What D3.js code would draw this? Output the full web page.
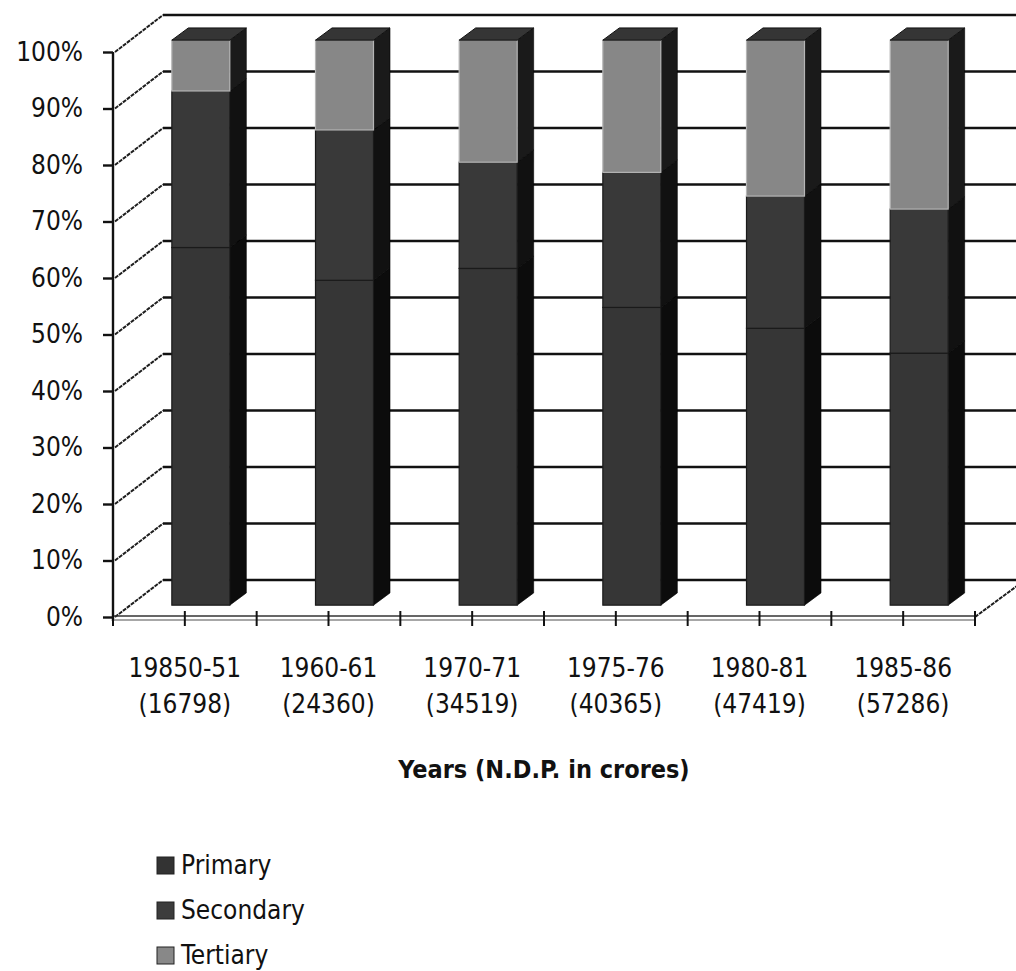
<!DOCTYPE html>
<html>
<head>
<meta charset="utf-8">
<script src="https://cdn.jsdelivr.net/npm/d3@7"></script>
<style>
  html, body { margin: 0; padding: 0; background: #fff; }
  svg { display: block; }
  text { font-family: "DejaVu Sans Condensed", "DejaVu Sans", Verdana, sans-serif; font-stretch: semi-condensed; fill: #111; }
</style>
</head>
<body>
<svg id="chart" width="1016" height="971"></svg>
<script>
// Sector shares of net domestic product (percent of total)
const years   = ["19850-51", "1960-61", "1970-71", "1975-76", "1980-81", "1985-86"];
const ndp     = ["(16798)", "(24360)", "(34519)", "(40365)", "(47419)", "(57286)"];
const primary   = [63.3, 57.5, 59.6, 52.7, 49.0, 44.6];
const secondary = [27.7, 26.6, 18.8, 23.9, 23.4, 25.5];
const tertiary  = [9.0, 15.9, 21.6, 23.4, 27.6, 29.9];
const seriesNames = ["Primary", "Secondary", "Tertiary"];
const yTicks = [0, 10, 20, 30, 40, 50, 60, 70, 80, 90, 100];

const FONT = '"DejaVu Sans Condensed", "DejaVu Sans", Verdana, sans-serif';
const svg = d3.select("#chart");
const W = 1016;

// front plane of the plot box and the depth vector of the 3-D box
const x = d3.scaleBand().domain(years).range([113, 975]).paddingInner(0).paddingOuter(0);
const y = d3.scaleLinear().domain([0, 100]).range([617, 52]);
const depth = { dx: 50, dy: -37 };
const off = f => [depth.dx * f, depth.dy * f];

const colors = {
  Primary:   { front: "#363636", side: "#0c0c0c", edge: "#1a1a1a" },
  Secondary: { front: "#393939", side: "#111111", edge: "#1a1a1a" },
  Tertiary:  { front: "#878787", side: "#1a1a1a", edge: "#b5b5b5" }
};

const rows = years.map((yr, i) => ({
  year: yr, ndp: ndp[i],
  Primary: primary[i], Secondary: secondary[i], Tertiary: tertiary[i]
}));
const stacked = d3.stack().keys(seriesNames)(rows);

// ---- back wall gridlines
const [bwx, bwy] = off(1);
const grid = svg.append("g");
grid.selectAll("line.grid").data(yTicks).join("line")
  .attr("x1", 113 + bwx).attr("x2", W + 10)
  .attr("y1", d => y(d) + bwy).attr("y2", d => y(d) + bwy)
  .attr("stroke", "#111").attr("stroke-width", 2.4);

// ---- side wall diagonals (left) and floor edge (right)
grid.selectAll("line.diag").data(yTicks).join("line")
  .attr("x1", 115).attr("y1", d => y(d))
  .attr("x2", 113 + bwx).attr("y2", d => y(d) + bwy)
  .attr("stroke", "#1e1e1e").attr("stroke-width", 2)
  .attr("stroke-dasharray", "4,1");
grid.append("line")
  .attr("x1", 975).attr("y1", y(0))
  .attr("x2", 975 + bwx).attr("y2", y(0) + bwy)
  .attr("stroke", "#1e1e1e").attr("stroke-width", 2)
  .attr("stroke-dasharray", "4,1");

// ---- columns
const f1 = 0.32, f2 = 0.65;
const barW = 58;
const [fx, fy] = off(f1);
const [bx, by] = off(f2);
const sdx = bx - fx, sdy = by - fy;

const bars = svg.append("g");
years.forEach((yr, i) => {
  const cx = x(yr) + x.bandwidth() / 2 + fx;
  const x0 = cx - barW / 2, x1 = cx + barW / 2;
  const g = bars.append("g");
  stacked.forEach(layer => {
    const d = layer[i];
    const name = layer.key;
    const yb = y(d[0]) + fy, yt = y(d[1]) + fy;
    const c = colors[name];
    // side face
    g.append("path")
      .attr("d", `M${x1},${yt}L${x1 + sdx},${yt + sdy}L${x1 + sdx},${yb + sdy}L${x1},${yb}Z`)
      .attr("fill", c.side).attr("stroke", "#000").attr("stroke-width", 0.6);
    // front face
    g.append("rect")
      .attr("x", x0).attr("y", yt).attr("width", barW).attr("height", yb - yt)
      .attr("fill", c.front).attr("stroke", c.edge).attr("stroke-width", 1.2);
  });
  // top face
  const top = stacked[stacked.length - 1][i][1];
  const yt = y(top) + fy;
  g.append("path")
    .attr("d", `M${x0},${yt}L${x0 + sdx},${yt + sdy}L${x1 + sdx},${yt + sdy}L${x1},${yt}Z`)
    .attr("fill", "#353535").attr("stroke", "#111").attr("stroke-width", 1);
});

// ---- front axes
const axes = svg.append("g");
axes.append("line").attr("x1", 113).attr("x2", 113).attr("y1", y(100)).attr("y2", y(0) + 4)
  .attr("stroke", "#111").attr("stroke-width", 2.4);
axes.append("line").attr("x1", 113).attr("x2", 975).attr("y1", y(0) - 1).attr("y2", y(0) - 1)
  .attr("stroke", "#333").attr("stroke-width", 1.6);
axes.append("line").attr("x1", 113).attr("x2", 975).attr("y1", y(0) + 3).attr("y2", y(0) + 3)
  .attr("stroke", "#8a8a8a").attr("stroke-width", 1.4);

// y axis ticks and labels
const yAxis = d3.axisLeft(y).tickValues(yTicks).tickFormat(d => d + "%")
  .tickSize(10).tickPadding(20);
const yg = axes.append("g").attr("transform", "translate(113,0)").call(yAxis);
yg.select(".domain").remove();
yg.selectAll(".tick line").attr("stroke", "#111").attr("stroke-width", 2.4);
yg.selectAll(".tick text")
  .style("font-family", FONT).style("font-stretch", "semi-condensed")
  .style("font-size", "26px").attr("fill", "#111");

// x axis ticks at every half band
const half = x.bandwidth() / 2;
const xTickPos = d3.range(0, years.length * 2 + 1).map(k => 113 + k * half);
axes.selectAll("line.xt").data(xTickPos).join("line")
  .attr("x1", d => d).attr("x2", d => d)
  .attr("y1", y(0) - 6).attr("y2", y(0) + 9)
  .attr("stroke", "#111").attr("stroke-width", 2);

// category labels (two lines)
const xAxis = d3.axisBottom(x).tickSize(0).tickPadding(0).tickFormat("");
const xg = axes.append("g").attr("transform", `translate(0,${y(0)})`).call(xAxis);
xg.select(".domain").remove();
xg.selectAll(".tick").each(function(d, i) {
  const t = d3.select(this).append("text")
    .attr("text-anchor", "middle")
    .style("font-family", FONT).style("font-stretch", "semi-condensed")
    .style("font-size", "26px").attr("fill", "#111");
  t.append("tspan").attr("x", 0).attr("y", 60).text(years[i]);
  t.append("tspan").attr("x", 0).attr("y", 96).text(ndp[i]);
});

// axis title
svg.append("text")
  .attr("x", (113 + 975) / 2).attr("y", 778)
  .attr("text-anchor", "middle")
  .style("font-size", "25px").style("font-weight", "bold")
  .text("Years (N.D.P. in crores)");

// ---- legend
const legendColors = ["#333333", "#3c3c3c", "#888888"];
const lg = svg.append("g").attr("transform", "translate(157,857)");
const item = lg.selectAll("g").data(seriesNames).join("g")
  .attr("transform", (d, i) => `translate(0,${i * 45})`);
item.append("rect").attr("width", 17).attr("height", 17)
  .attr("fill", (d, i) => legendColors[i]).attr("stroke", "#222").attr("stroke-width", 1);
item.append("text").attr("x", 24).attr("y", 17)
  .style("font-size", "26px").attr("fill", "#111")
  .text(d => d);
</script>
</body>
</html>
